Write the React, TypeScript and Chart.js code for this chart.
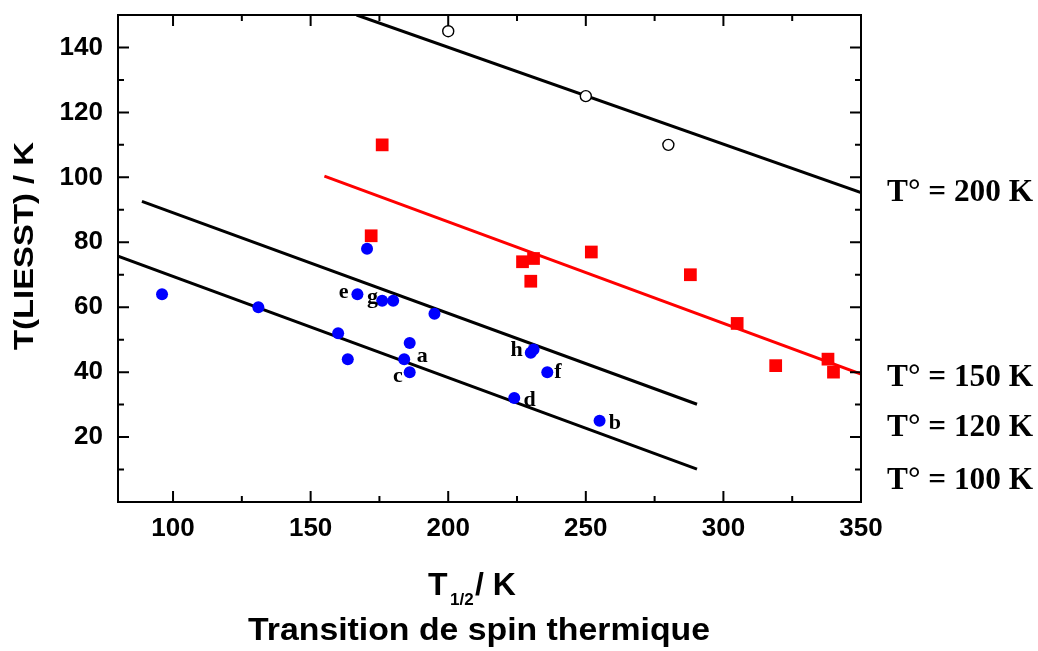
import React, { useEffect, useRef } from 'react';
import { Chart, registerables } from 'chart.js';

Chart.register(...registerables);

// ---- data ----
const xTickValues = [100, 150, 200, 250, 300, 350];
const xMinorValues = [125, 175, 225, 275, 325];
const yTickValues = [20, 40, 60, 80, 100, 120, 140];
const yMinorValues = [10, 30, 50, 70, 90, 110, 130];

const blueX = [96, 131, 160, 163.5, 167, 176, 180, 195, 186, 184, 186, 170.5, 230, 231, 236, 224, 255];
const blueY = [64, 60, 52, 44, 64, 62, 62, 58, 49, 44, 40, 78, 46, 47, 40, 32, 25];

const redX = [176, 172, 227, 231, 230, 252, 288, 305, 319, 338, 340];
const redY = [110, 82, 74, 75, 68, 77, 70, 55, 42, 44, 40];

const openX = [200, 250, 280];
const openY = [145, 125, 110];

const line200X = [166.7, 350];
const line200Y = [150, 95.3];
const line150X = [155, 350];
const line150Y = [100.4, 39.4];
const line120X = [88.7, 290.4];
const line120Y = [92.6, 30.1];
const line100X = [80, 290.4];
const line100Y = [75.7, 10.1];

const letterTexts = ['e', 'g', 'a', 'c', 'h', 'f', 'd', 'b'];
const letterX = [160.2, 170.5, 188.6, 179.9, 222.6, 238.5, 227.4, 258.3];
const letterY = [62.7, 61.3, 43.0, 37.1, 45.1, 38.1, 29.6, 22.5];

const tLabels = ['T° = 200 K', 'T° = 150 K', 'T° = 120 K', 'T° = 100 K'];
const tLabelY = [92.7, 35.8, 20.3, 3.9];

const yTitle = 'T(LIESST) / K';
const xTitleMain = 'T';
const xTitleSub = '1/2';
const xTitleUnit = '/ K';
const bottomTitle = 'Transition de spin thermique';

const pts = (xs: number[], ys: number[]) => xs.map((v, i) => ({ x: v, y: ys[i] }));

const SANS = '"Liberation Sans", Arial, sans-serif';
const SERIF = '"Liberation Serif", "Times New Roman", serif';

function fitText(ctx: CanvasRenderingContext2D, text: string, x: number, y: number, width: number) {
  const w = ctx.measureText(text).width;
  ctx.save();
  ctx.translate(x, y);
  ctx.scale(width / w, 1);
  ctx.textAlign = 'left';
  ctx.fillText(text, 0, 0);
  ctx.restore();
}

const decorPlugin = {
  id: 'decor',
  afterDraw(chart: any) {
    const { ctx, chartArea: a, scales } = chart;
    const xs = scales.x;
    const ys = scales.y;
    ctx.save();
    ctx.strokeStyle = '#000';
    ctx.fillStyle = '#000';
    // ticks (inward, all four sides)
    ctx.lineWidth = 2;
    ctx.beginPath();
    const major = 11;
    const minor = 6;
    xTickValues.forEach((v) => {
      const p = xs.getPixelForValue(v);
      ctx.moveTo(p, a.bottom); ctx.lineTo(p, a.bottom - major);
      ctx.moveTo(p, a.top); ctx.lineTo(p, a.top + major);
    });
    xMinorValues.forEach((v) => {
      const p = xs.getPixelForValue(v);
      ctx.moveTo(p, a.bottom); ctx.lineTo(p, a.bottom - minor);
      ctx.moveTo(p, a.top); ctx.lineTo(p, a.top + minor);
    });
    yTickValues.forEach((v) => {
      const p = ys.getPixelForValue(v);
      ctx.moveTo(a.left, p); ctx.lineTo(a.left + major, p);
      ctx.moveTo(a.right, p); ctx.lineTo(a.right - major, p);
    });
    yMinorValues.forEach((v) => {
      const p = ys.getPixelForValue(v);
      ctx.moveTo(a.left, p); ctx.lineTo(a.left + minor, p);
      ctx.moveTo(a.right, p); ctx.lineTo(a.right - minor, p);
    });
    ctx.stroke();
    // frame
    ctx.lineWidth = 2;
    ctx.strokeRect(a.left, a.top, a.right - a.left, a.bottom - a.top);

    // letters
    ctx.font = `bold 22px ${SERIF}`;
    ctx.textAlign = 'left';
    ctx.textBaseline = 'alphabetic';
    letterTexts.forEach((t, i) => {
      ctx.fillText(t, xs.getPixelForValue(letterX[i]), ys.getPixelForValue(letterY[i]));
    });

    // T° labels
    ctx.font = `bold 31px ${SERIF}`;
    tLabels.forEach((t, i) => {
      fitText(ctx, t, a.right + 26, ys.getPixelForValue(tLabelY[i]), 146);
    });

    // y title
    ctx.font = `bold 28px ${SANS}`;
    ctx.save();
    ctx.translate(33, 350);
    ctx.rotate(-Math.PI / 2);
    fitText(ctx, yTitle, 0, 0, 208);
    ctx.restore();

    // x title with subscript
    ctx.font = `bold 32px ${SANS}`;
    ctx.textAlign = 'left';
    ctx.fillText(xTitleMain, 428, 595);
    ctx.font = `bold 17px ${SANS}`;
    ctx.fillText(xTitleSub, 450, 605);
    ctx.font = `bold 32px ${SANS}`;
    ctx.fillText(xTitleUnit, 475, 595);

    // bottom title
    ctx.font = `bold 32px ${SANS}`;
    fitText(ctx, bottomTitle, 248, 640, 462);
    ctx.restore();
  },
};

export default function App() {
  const ref = useRef<HTMLCanvasElement | null>(null);
  useEffect(() => {
    if (!ref.current) return;
    const lineDs = (xs: number[], ys: number[], color: string) => ({
      data: pts(xs, ys),
      showLine: true,
      borderColor: color,
      borderWidth: 3,
      pointRadius: 0,
      fill: false,
      order: 2,
    });
    const chart = new Chart(ref.current, {
      type: 'scatter',
      data: {
        datasets: [
          lineDs(line200X, line200Y, '#000000'),
          lineDs(line150X, line150Y, '#ff0000'),
          lineDs(line120X, line120Y, '#000000'),
          lineDs(line100X, line100Y, '#000000'),
          {
            data: pts(blueX, blueY),
            pointStyle: 'circle',
            pointRadius: 6,
            backgroundColor: '#0000ff',
            borderWidth: 0,
            order: 1,
          },
          {
            data: pts(redX, redY),
            pointStyle: 'rect',
            pointRadius: 9,
            backgroundColor: '#ff0000',
            borderWidth: 0,
            order: 1,
          },
          {
            data: pts(openX, openY),
            pointStyle: 'circle',
            pointRadius: 5.5,
            backgroundColor: '#ffffff',
            borderColor: '#000000',
            borderWidth: 1.4,
            order: 1,
          },
        ],
      } as any,
      options: {
        responsive: false,
        animation: false,
        layout: { padding: { left: 0, right: 177, top: 15, bottom: 0 } },
        plugins: { legend: { display: false }, tooltip: { enabled: false } },
        scales: {
          x: {
            type: 'linear',
            min: 80,
            max: 350,
            grid: { display: false, drawTicks: false },
            border: { display: false },
            ticks: {
              color: '#000',
              padding: 11,
              font: { family: SANS, size: 26, weight: 'bold' },
            },
            afterBuildTicks: (s: any) => {
              s.ticks = xTickValues.map((v) => ({ value: v }));
            },
            afterFit: (s: any) => {
              s.height = 149;
              s.paddingLeft = 0;
              s.paddingRight = 0;
            },
          },
          y: {
            type: 'linear',
            min: 0,
            max: 150,
            grid: { display: false, drawTicks: false },
            border: { display: false },
            ticks: {
              color: '#000',
              padding: 15,
              font: { family: SANS, size: 26, weight: 'bold' },
            },
            afterBuildTicks: (s: any) => {
              s.ticks = yTickValues.map((v) => ({ value: v }));
            },
            afterFit: (s: any) => {
              s.width = 118;
              s.paddingTop = 0;
              s.paddingBottom = 0;
            },
          },
        },
      } as any,
      plugins: [decorPlugin],
    });
    return () => chart.destroy();
  }, []);
  return (
    <div style={{ position: 'absolute', left: 0, top: 0, width: 1038, height: 651, background: '#fff' }}>
      <canvas ref={ref} width={1038} height={651} style={{ display: 'block' }} />
    </div>
  );
}
